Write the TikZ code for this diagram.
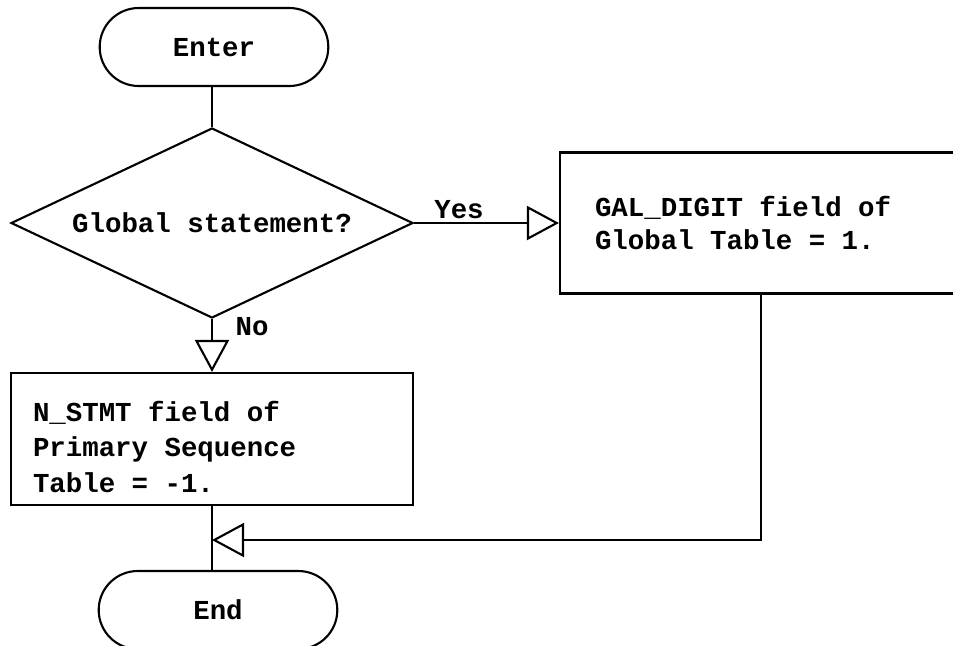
\documentclass[tikz,border=0pt]{standalone}
\usepackage{fontspec}
\setmonofont{Liberation Mono}
\usetikzlibrary{positioning, shapes.geometric, shapes.misc, arrows.meta}

\begin{document}
\begin{tikzpicture}[font={\ttfamily\bfseries\fontsize{19.5}{25}\selectfont}, line width=1.5pt,
  term/.style={draw, rounded rectangle, minimum width=5.95cm, minimum height=1.95cm},
  test/.style={draw, diamond, aspect=2.1, minimum width=10.05cm, minimum height=4.75cm, inner sep=0pt},
  box/.style={draw, align=left, minimum width=10.05cm, minimum height=3.3cm,
              execute at begin node={\spaceskip=0.6em\relax}},
  flow/.style={-{Triangle[length=0.8cm, width=0.85cm, fill=white]}}
]
  \useasboundingbox (0,0) rectangle (23.825,-16.125);

  \node[term] (enter) at (5.35,-1.175) {Enter};
  \node[test] (q) at (5.3,-5.575) {Global statement?};

  % strut on the first line pushes the three lines a bit lower
  \node[box, text width=8.95cm, inner xsep=0.55cm] (nstmt) at (5.3,-10.975)
    {\rule{0pt}{0.9cm}N\_STMT field of\\Primary Sequence\\Table = -1.};
  \node[box, text width=8.3cm, inner xsep=0.875cm, minimum height=3.525cm,
        font={\ttfamily\bfseries\fontsize{19.5}{23}\selectfont}] (gal) at (19.025,-5.575)
    {GAL\_DIGIT field of\\Global Table = 1.};

  \node[term, minimum width=6.2cm] (end) at (5.45,-15.25) {End};
  \coordinate (mrg) at (5.3,-13.5);

  \draw (enter.south -| q.north) -- (q.north);
  \draw[flow] (q.east) -- node[above, pos=0.31, inner sep=2pt] (yes) {Yes} (gal.west);
  \draw[flow] (q.south) -- node[right, pos=0.14, xshift=0.45cm] (no) {No} (nstmt.north);
  \draw (nstmt.south) -- (nstmt.south |- end.north);
  \draw[flow] (gal.south) |- (mrg);
\end{tikzpicture}
\end{document}
